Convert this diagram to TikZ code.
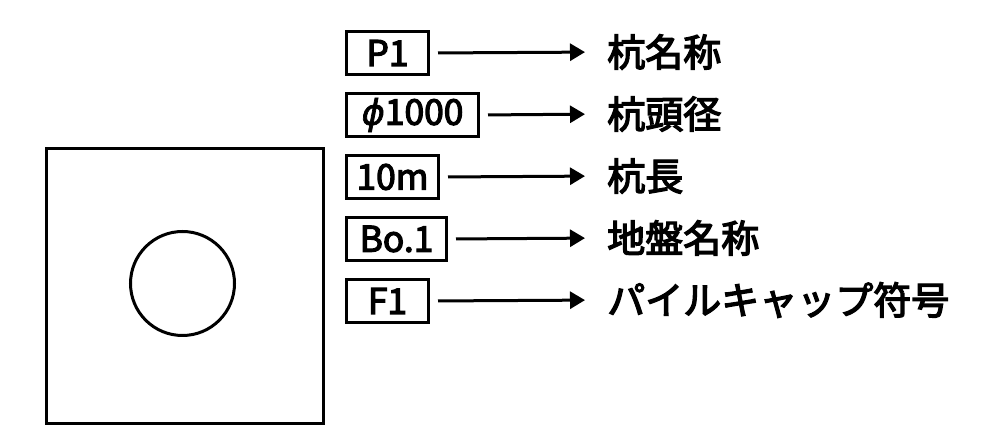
\documentclass[tikz,border=0pt]{standalone}
\usepackage{fontspec}
\setmainfont{Noto Sans CJK JP}
\newfontfamily\descfont[FakeBold=3.5]{Noto Sans CJK JP}
\newfontfamily\boxfont[FakeBold=3.5]{Noto Sans CJK JP}
\newfontfamily\phifont[FakeBold=2]{DejaVu Sans}
\usetikzlibrary{arrows.meta}
\begin{document}
\begin{tikzpicture}[x=0.75pt,y=-0.75pt,
  lbl/.style={draw, line width=2.25pt, anchor=west, minimum width=#1*0.75pt,
    minimum height=32.25pt, inner sep=0pt, font=\boxfont\fontsize{26.5}{30}\selectfont},
  desc/.style={anchor=west, inner sep=0pt, font=\descfont\fontsize{28.5}{32}\selectfont},
  arr/.style={line width=2.25pt, -{Triangle[length=11.25pt,width=12.75pt]},
    shorten <=6pt, shorten >=16.5pt},
  shape line/.style={line width=2.25pt}]
\useasboundingbox (0,0) rectangle (1000,448);
% plan of pile cap and pile
\draw[shape line] (46.5,148.5) rectangle (323.5,423.5);
\draw[shape line] (182.5,283.5) circle [radius=52*0.75pt];
% labels
\node[lbl=82]  (b1) at (345,53)  {P1};
\node[lbl=132] (b2) at (345,115) {{\phifont\itshape ϕ}1000};
\node[lbl=92]  (b3) at (345,177) {10m};
\node[lbl=100] (b4) at (345,239) {Bo.1};
\node[lbl=82]  (b5) at (345,301) {F1};
% descriptions
\node[desc] (t1) at (607,52)  {杭名称};
\node[desc] (t2) at (607,114) {杭頭径};
\node[desc] (t3) at (607,176) {杭長};
\node[desc] (t4) at (607,238) {地盤名称};
\node[desc] (t5) at (607,300) {パイルキャップ符号};
% connectors
\foreach \i in {1,...,5} \draw[arr] (b\i.east) -- (t\i.west);
\end{tikzpicture}
\end{document}
